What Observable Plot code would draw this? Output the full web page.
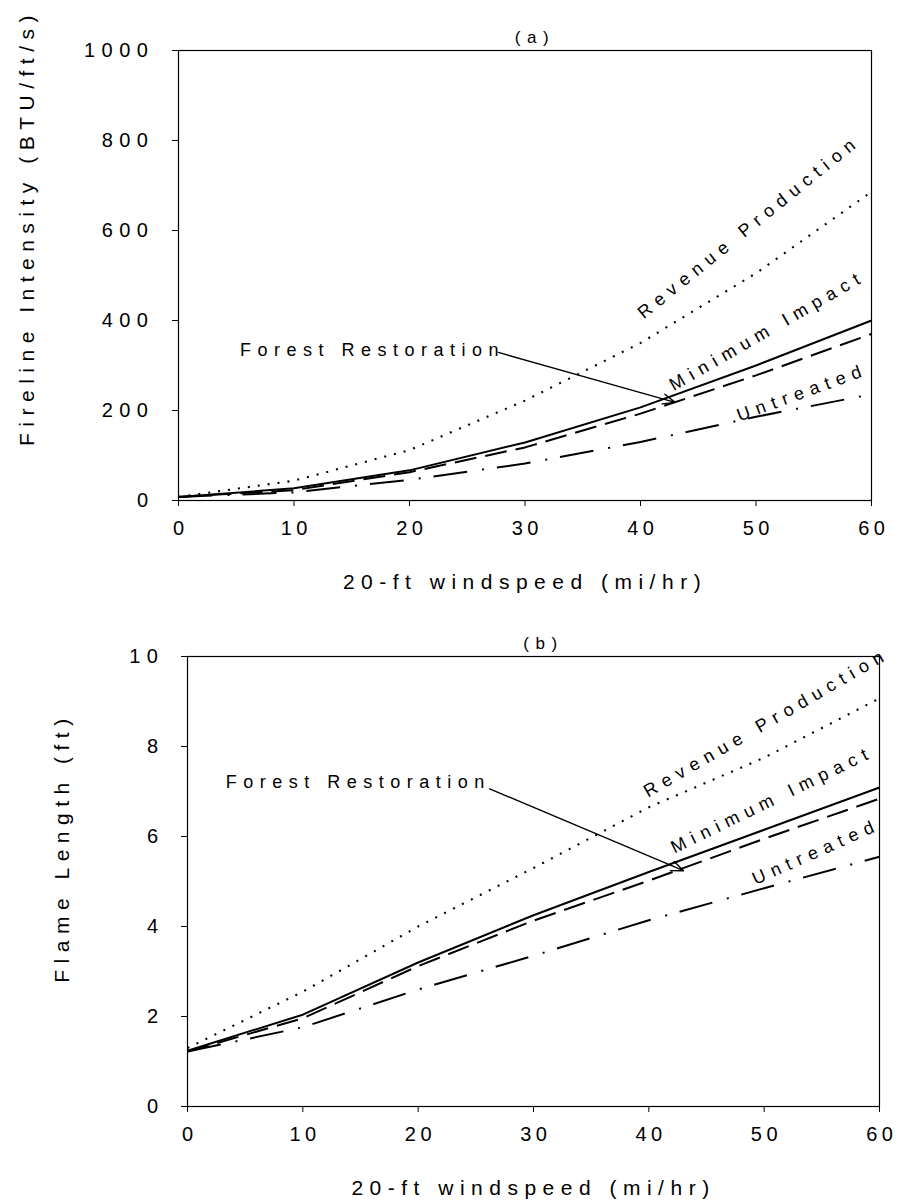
<!DOCTYPE html>
<html>
<head>
<meta charset="utf-8">
<script src="https://cdn.jsdelivr.net/npm/d3@7"></script>
<script src="https://cdn.jsdelivr.net/npm/@observablehq/plot@0.6"></script>
<style>
  body { margin: 0; background: #fff; }
  #wrap { width: 899px; height: 1203px; position: relative; overflow: hidden; }
  #wrap svg { display: block; }
</style>
</head>
<body>
<div id="wrap"></div>
<script>
// ---------------- data ----------------
const windspeed = [0, 10, 20, 30, 40, 50, 60];

// Panel (a): fireline intensity (BTU/ft/s)
const intensityRevenue   = [8, 44, 112, 222, 350, 505, 686];
const intensityMinimum   = [8, 23, 63, 118, 193, 278, 370];
const intensityForest    = [8, 27, 67, 129, 207, 300, 400];
const intensityUntreated = [8, 18, 46, 82, 130, 186, 236];

// Panel (b): flame length (ft)
const flameRevenue   = [1.3, 2.55, 4.0, 5.3, 6.65, 7.75, 9.07];
const flameMinimum   = [1.22, 1.96, 3.12, 4.13, 5.02, 5.95, 6.84];
const flameForest    = [1.24, 2.04, 3.2, 4.25, 5.21, 6.15, 7.09];
const flameUntreated = [1.22, 1.76, 2.6, 3.35, 4.14, 4.85, 5.55];

const xTicks  = [0, 10, 20, 30, 40, 50, 60];
const yTicksA = [0, 200, 400, 600, 800, 1000];
const yTicksB = [0, 2, 4, 6, 8, 10];

const xTitle  = "20-ft windspeed (mi/hr)";
const yTitleA = "Fireline Intensity (BTU/ft/s)";
const yTitleB = "Flame Length (ft)";
const panelA  = "(a)";
const panelB  = "(b)";

// annotation labels (data coordinates)
const labelNames  = ["Revenue Production", "Minimum Impact", "Untreated"];
const labelXA     = [49.4, 51.0, 54.0];
const labelYA     = [608, 378, 240];
const labelXB     = [50.2, 50.7, 54.5];
const labelYB     = [8.53, 6.82, 5.66];
const forestLabel = "Forest Restoration";
const forestA     = {x: 16.8, y: 333, x1: 27.7, y1: 329, x2: 43.0, y2: 218};
const forestB     = {x: 14.8, y: 7.21, x1: 26.2, y1: 7.06, x2: 43.0, y2: 5.24};

// ---------------- styling ----------------
const seriesStyle = {
  "Revenue Production": {dash: "2,8", width: 2.1},
  "Minimum Impact":     {dash: "22,9", width: 2},
  "Forest Restoration": {dash: null, width: 2},
  "Untreated":          {dash: "34,15,2,13", width: 2}
};
const angleA = [-39, -30, -20];
const angleB = [-30, -26, -24];
const spacing = [5.2, 6.2, 5.0];
const font = "'Liberation Sans', Arial, Helvetica, sans-serif";
const tickSpacing = 6.5;
const xTickSpacing = 4.5;
const titleSpacing = 4.3;

function rowsOf(name, values) {
  return windspeed.map((x, i) => ({x, y: values[i], series: name}));
}

function makePanel(cfg) {
  const lineMarks = cfg.series.map(([name, vals]) =>
    Plot.line(rowsOf(name, vals), {
      x: "x", y: "y", stroke: "#000",
      strokeWidth: seriesStyle[name].width,
      strokeDasharray: seriesStyle[name].dash,
      strokeLinecap: "butt", strokeLinejoin: "round"
    })
  );
  const labelMarks = labelNames.map((t, i) =>
    Plot.text([{t, x: cfg.lx[i], y: cfg.ly[i]}], {
      x: "x", y: "y", text: "t", rotate: cfg.angles[i],
      fontSize: 18, fill: "#000", ariaLabel: "lab" + i
    })
  );
  const f = cfg.forest;
  return Plot.plot({
    width: 899, height: cfg.height,
    marginLeft: cfg.ml, marginRight: cfg.mr, marginTop: 50, marginBottom: cfg.height - 50 - 450,
    style: {fontFamily: font, fontSize: "20px", color: "#000", background: "#fff", overflow: "visible", letterSpacing: tickSpacing + "px"},
    x: {domain: [0, 60]},
    y: {domain: cfg.yDomain},
    marks: [
      Plot.axisX({ticks: xTicks, tickSize: 6, tickPadding: 14, label: null, tickFormat: d => String(d), fontSize: 20}),
      Plot.axisY({ticks: cfg.yTicks, tickSize: 6, tickPadding: cfg.tp, label: null, tickFormat: d => String(d), fontSize: 20}),
      Plot.frame({stroke: "#000", strokeWidth: 1.2}),
      ...lineMarks,
      Plot.arrow([f], {x1: "x1", y1: "y1", x2: "x2", y2: "y2", stroke: "#000", strokeWidth: 1.4, headLength: 14, headAngle: 45}),
      Plot.text([{t: forestLabel, x: f.x, y: f.y}], {x: "x", y: "y", text: "t", fontSize: 18, ariaLabel: "forest"}),
      ...labelMarks,
      Plot.text([cfg.panel], {text: d => d, frameAnchor: "top", textAnchor: "middle", dy: -20, dx: 10, fontSize: 17, ariaLabel: "panel"}),
      Plot.text([xTitle], {text: d => d, frameAnchor: "bottom", textAnchor: "middle", dy: 82, fontSize: 21, lineAnchor: "middle", ariaLabel: "xtitle"}),
      Plot.text([cfg.yTitle], {text: d => d, frameAnchor: "left", textAnchor: "middle", rotate: -90, dx: cfg.ytx, dy: cfg.yty, fontSize: 21, lineAnchor: "middle", ariaLabel: "ytitle"})
    ]
  });
}

const svgA = makePanel({
  height: 606, ml: 178, mr: 28, yDomain: [0, 1000], yTicks: yTicksA, tp: 18,
  series: [["Revenue Production", intensityRevenue], ["Minimum Impact", intensityMinimum],
           ["Forest Restoration", intensityForest], ["Untreated", intensityUntreated]],
  lx: labelXA, ly: labelYA, angles: angleA, forest: forestA, panel: panelA,
  yTitle: yTitleA, ytx: -151, yty: -48
});
const svgB = makePanel({
  height: 597, ml: 187, mr: 20, yDomain: [0, 10], yTicks: yTicksB, tp: 17,
  series: [["Revenue Production", flameRevenue], ["Minimum Impact", flameMinimum],
           ["Forest Restoration", flameForest], ["Untreated", flameUntreated]],
  lx: labelXB, ly: labelYB, angles: angleB, forest: forestB, panel: panelB,
  yTitle: yTitleB, ytx: -125, yty: -34
});

for (const svg of [svgA, svgB]) {
  const s = d3.select(svg);
  s.selectAll('g[aria-label="x-axis tick label"] text')
    .style("letter-spacing", xTickSpacing + "px").attr("dx", xTickSpacing / 2);
  s.selectAll('g[aria-label="forest"] text').style("letter-spacing", "4.2px").attr("dx", 2.1);
  labelNames.forEach((_, i) => s.selectAll(`g[aria-label="lab${i}"] text`).style("letter-spacing", spacing[i] + "px").attr("dx", spacing[i] / 2));
  s.selectAll('g[aria-label="panel"] text').style("letter-spacing", "2px");
  s.selectAll('g[aria-label="xtitle"] text, g[aria-label="ytitle"] text').style("letter-spacing", titleSpacing + "px").attr("dx", titleSpacing / 2);
  document.getElementById("wrap").appendChild(svg);
}
</script>
</body>
</html>
